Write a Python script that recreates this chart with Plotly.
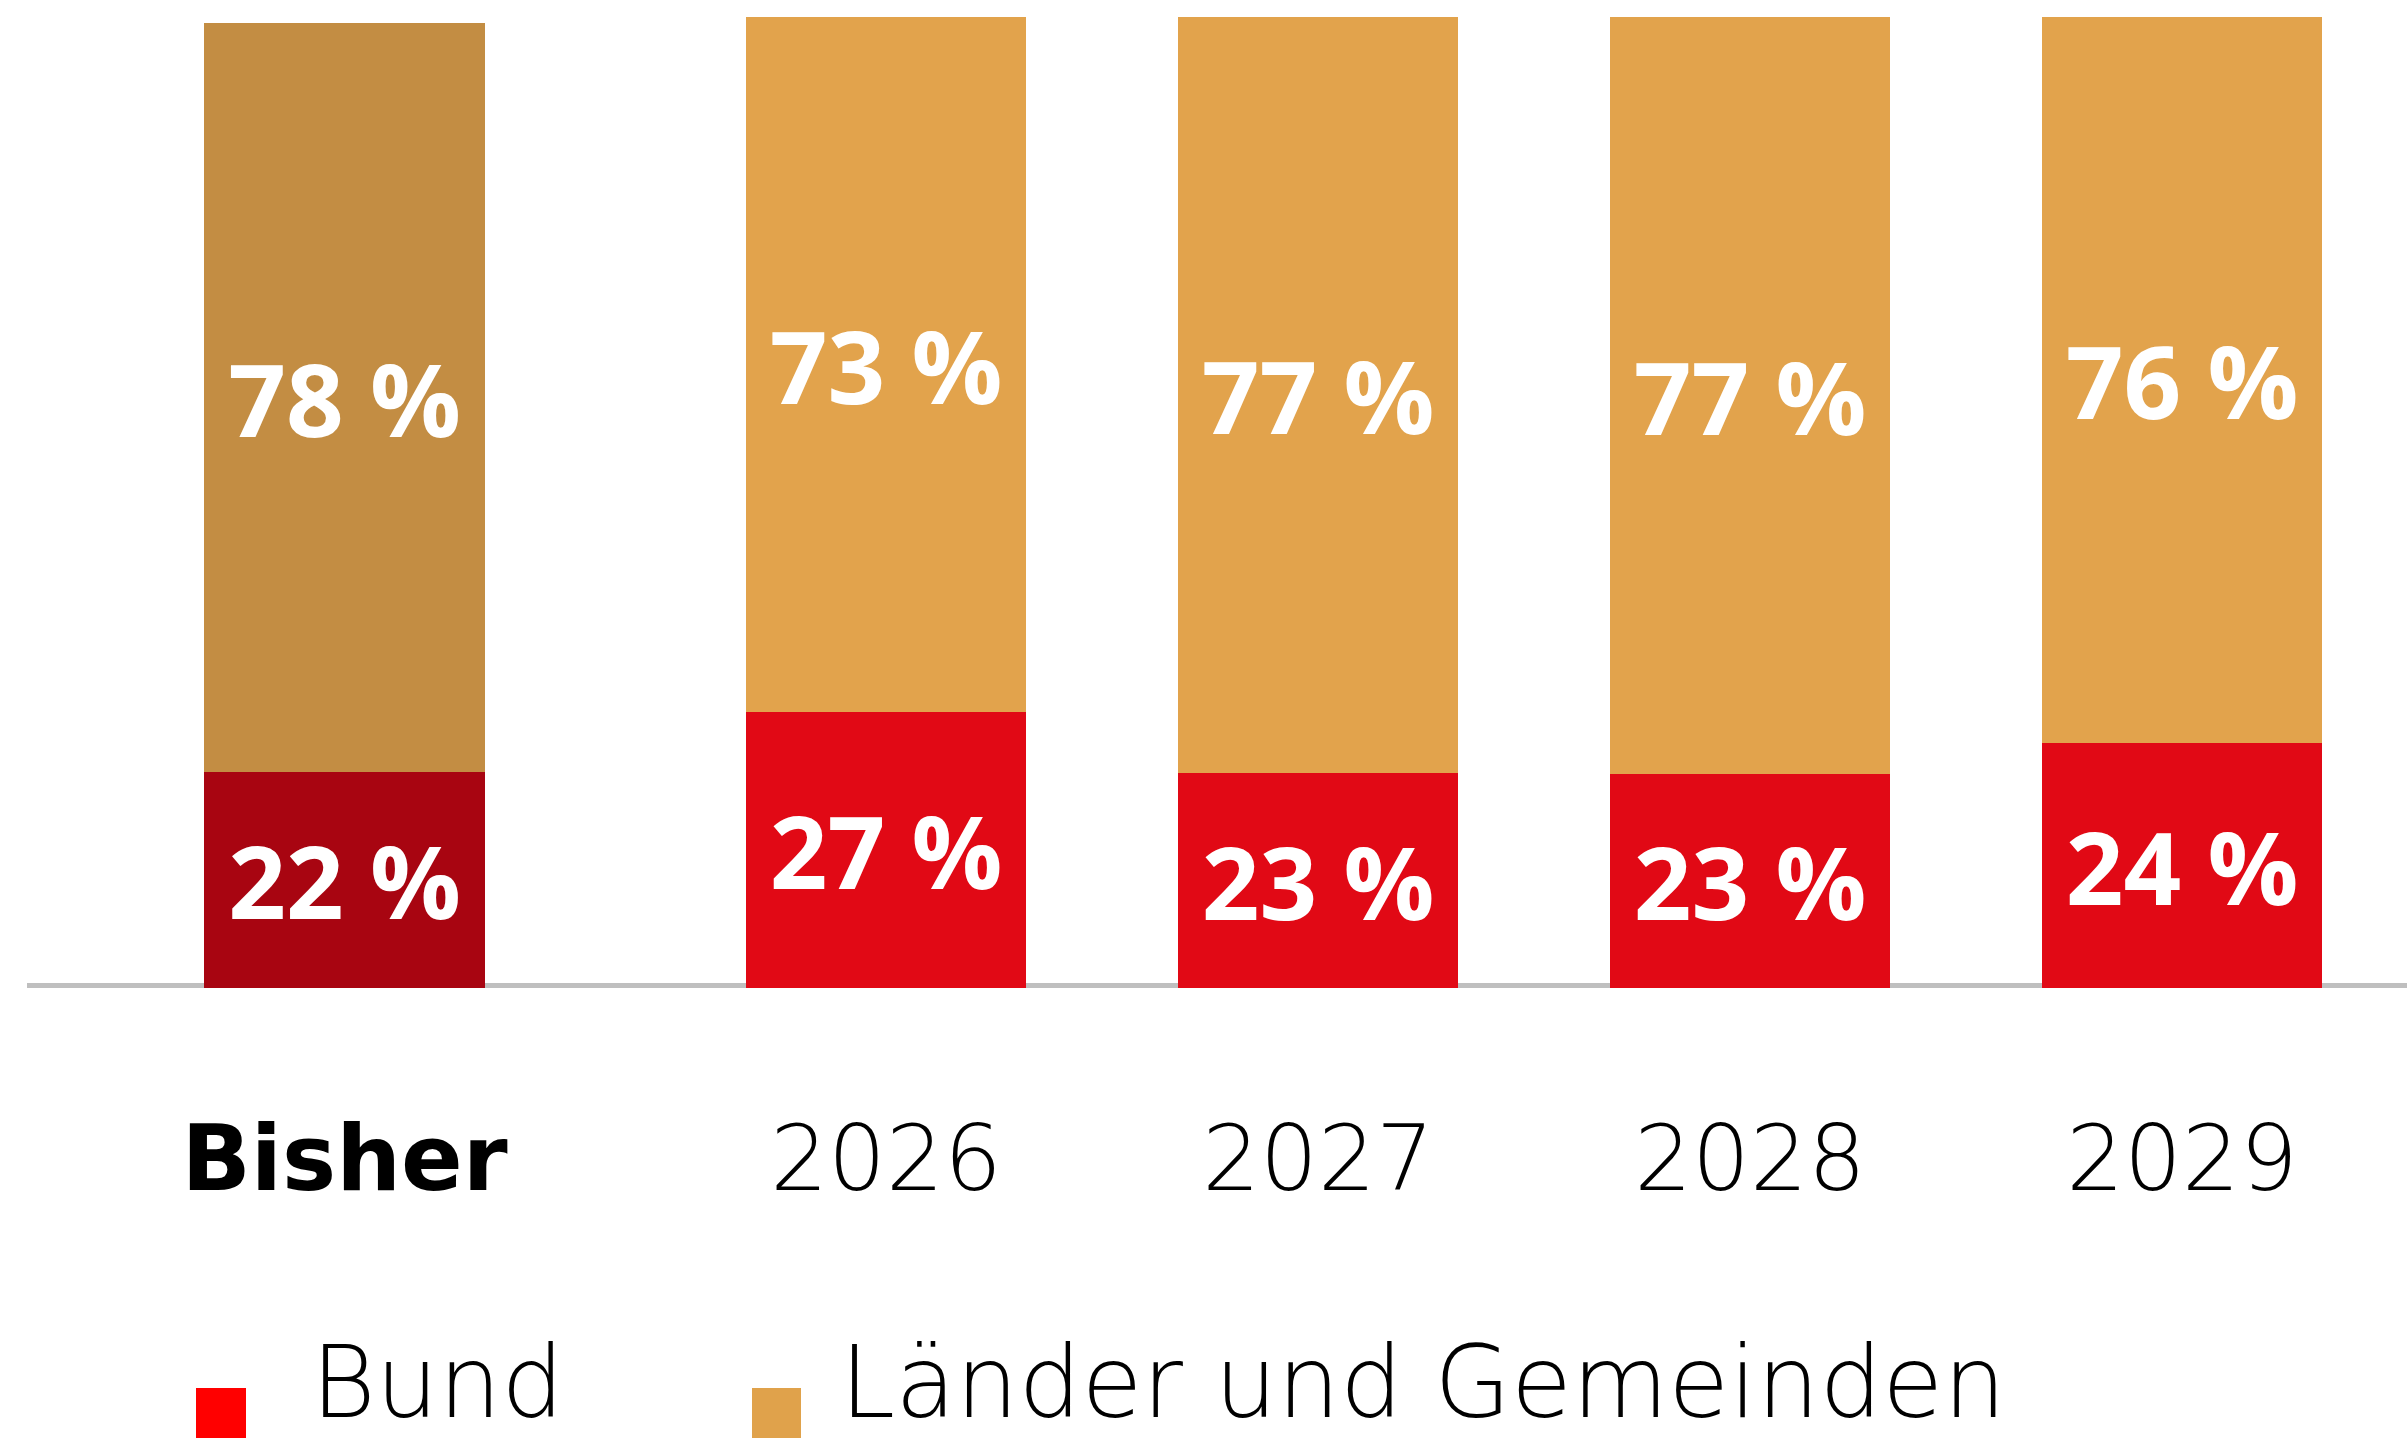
import plotly.graph_objects as go

# ---------------- data ----------------
categories = ["Bisher", "2026", "2027", "2028", "2029"]
tick_labels = ["<b>Bisher</b>", "2026", "2027", "2028", "2029"]
bund = [22.2, 28.4, 22.1, 22.0, 25.2]
laender = [77.2, 71.6, 77.9, 78.0, 74.8]
bund_labels = ["22 %", "27 %", "23 %", "23 %", "24 %"]
laender_labels = ["78 %", "73 %", "77 %", "77 %", "76 %"]
series_names = ["Bund", "Länder und Gemeinden"]

# ---------------- styles ----------------
W, H = 2407, 1445
bund_colors = ["#a80511", "#e10915", "#e10915", "#e10915", "#e10915"]
laender_colors = ["#c38d43", "#e2a34c", "#e2a34c", "#e2a34c", "#e2a34c"]
legend_colors = ["#ff0000", "#e0a24b"]
AXIS_FONT = "DejaVu Sans"
LABEL_FONT = "Open Sans"
label_font = dict(family=LABEL_FONT, size=101, color="white", weight="bold")

fig = go.Figure()

groups = [("x", slice(0, 1)), ("x2", slice(1, 5))]
for xa, sl in groups:
    fig.add_trace(go.Bar(
        x=categories[sl], y=bund[sl], name=series_names[0],
        marker=dict(color=bund_colors[sl], line=dict(width=0)),
        text=bund_labels[sl], textposition="inside", insidetextanchor="middle",
        textangle=0, textfont=label_font, xaxis=xa, yaxis="y",
        showlegend=False, hoverinfo="skip"))
    fig.add_trace(go.Bar(
        x=categories[sl], y=laender[sl], name=series_names[1],
        marker=dict(color=laender_colors[sl], line=dict(width=0)),
        text=laender_labels[sl], textposition="inside", insidetextanchor="middle",
        textangle=0, textfont=label_font, xaxis=xa, yaxis="y",
        showlegend=False, hoverinfo="skip"))

tick_common = dict(
    type="category", showgrid=False, zeroline=False, showline=False,
    ticks="outside", ticklen=92, tickcolor="rgba(0,0,0,0)",
    tickfont=dict(family=AXIS_FONT, size=91, color="black", weight=300),
    anchor="y",
)

fig.update_layout(
    width=W, height=H, autosize=False,
    margin=dict(l=0, r=0, t=17, b=457, pad=0),
    paper_bgcolor="white", plot_bgcolor="white",
    barmode="stack", bargap=0.35,
    showlegend=False,
    xaxis=dict(domain=[128.5 / W, 560.5 / W], tickvals=categories[0:1],
               ticktext=tick_labels[0:1], range=[-0.5, 0.5], **tick_common),
    xaxis2=dict(domain=[670 / W, 2398 / W], tickvals=categories[1:],
                ticktext=tick_labels[1:], range=[-0.5, 3.5], **tick_common),
    yaxis=dict(range=[0, 100], visible=False, fixedrange=True),
)

# baseline (axis line)
fig.add_shape(type="line", xref="paper", yref="y", x0=27 / W, x1=1, y0=0, y1=0,
              line=dict(color="#bfbfbf", width=10), layer="below")

# legend drawn manually (large square markers)
PH = 971.0  # plot-area height in px


def py(px):
    return (988 - px) / PH


legend_items = [
    (196, 246, 310),
    (752, 801, 839),
]
for (x0, x1, tx), name, col in zip(legend_items, series_names, legend_colors):
    fig.add_shape(type="rect", xref="paper", yref="paper",
                  x0=x0 / W, x1=x1 / W, y0=py(1438), y1=py(1388),
                  fillcolor=col, line=dict(width=0))
    fig.add_annotation(text=name, xref="paper", yref="paper",
                       x=tx / W, y=py(1383), xanchor="left", yanchor="middle",
                       showarrow=False, borderpad=0,
                       font=dict(family=AXIS_FONT, size=99, color="black", weight=300))

fig.write_html("out.html", config={"staticPlot": True},
               post_script="document.body.style.margin='0';document.body.style.overflow='hidden';")
